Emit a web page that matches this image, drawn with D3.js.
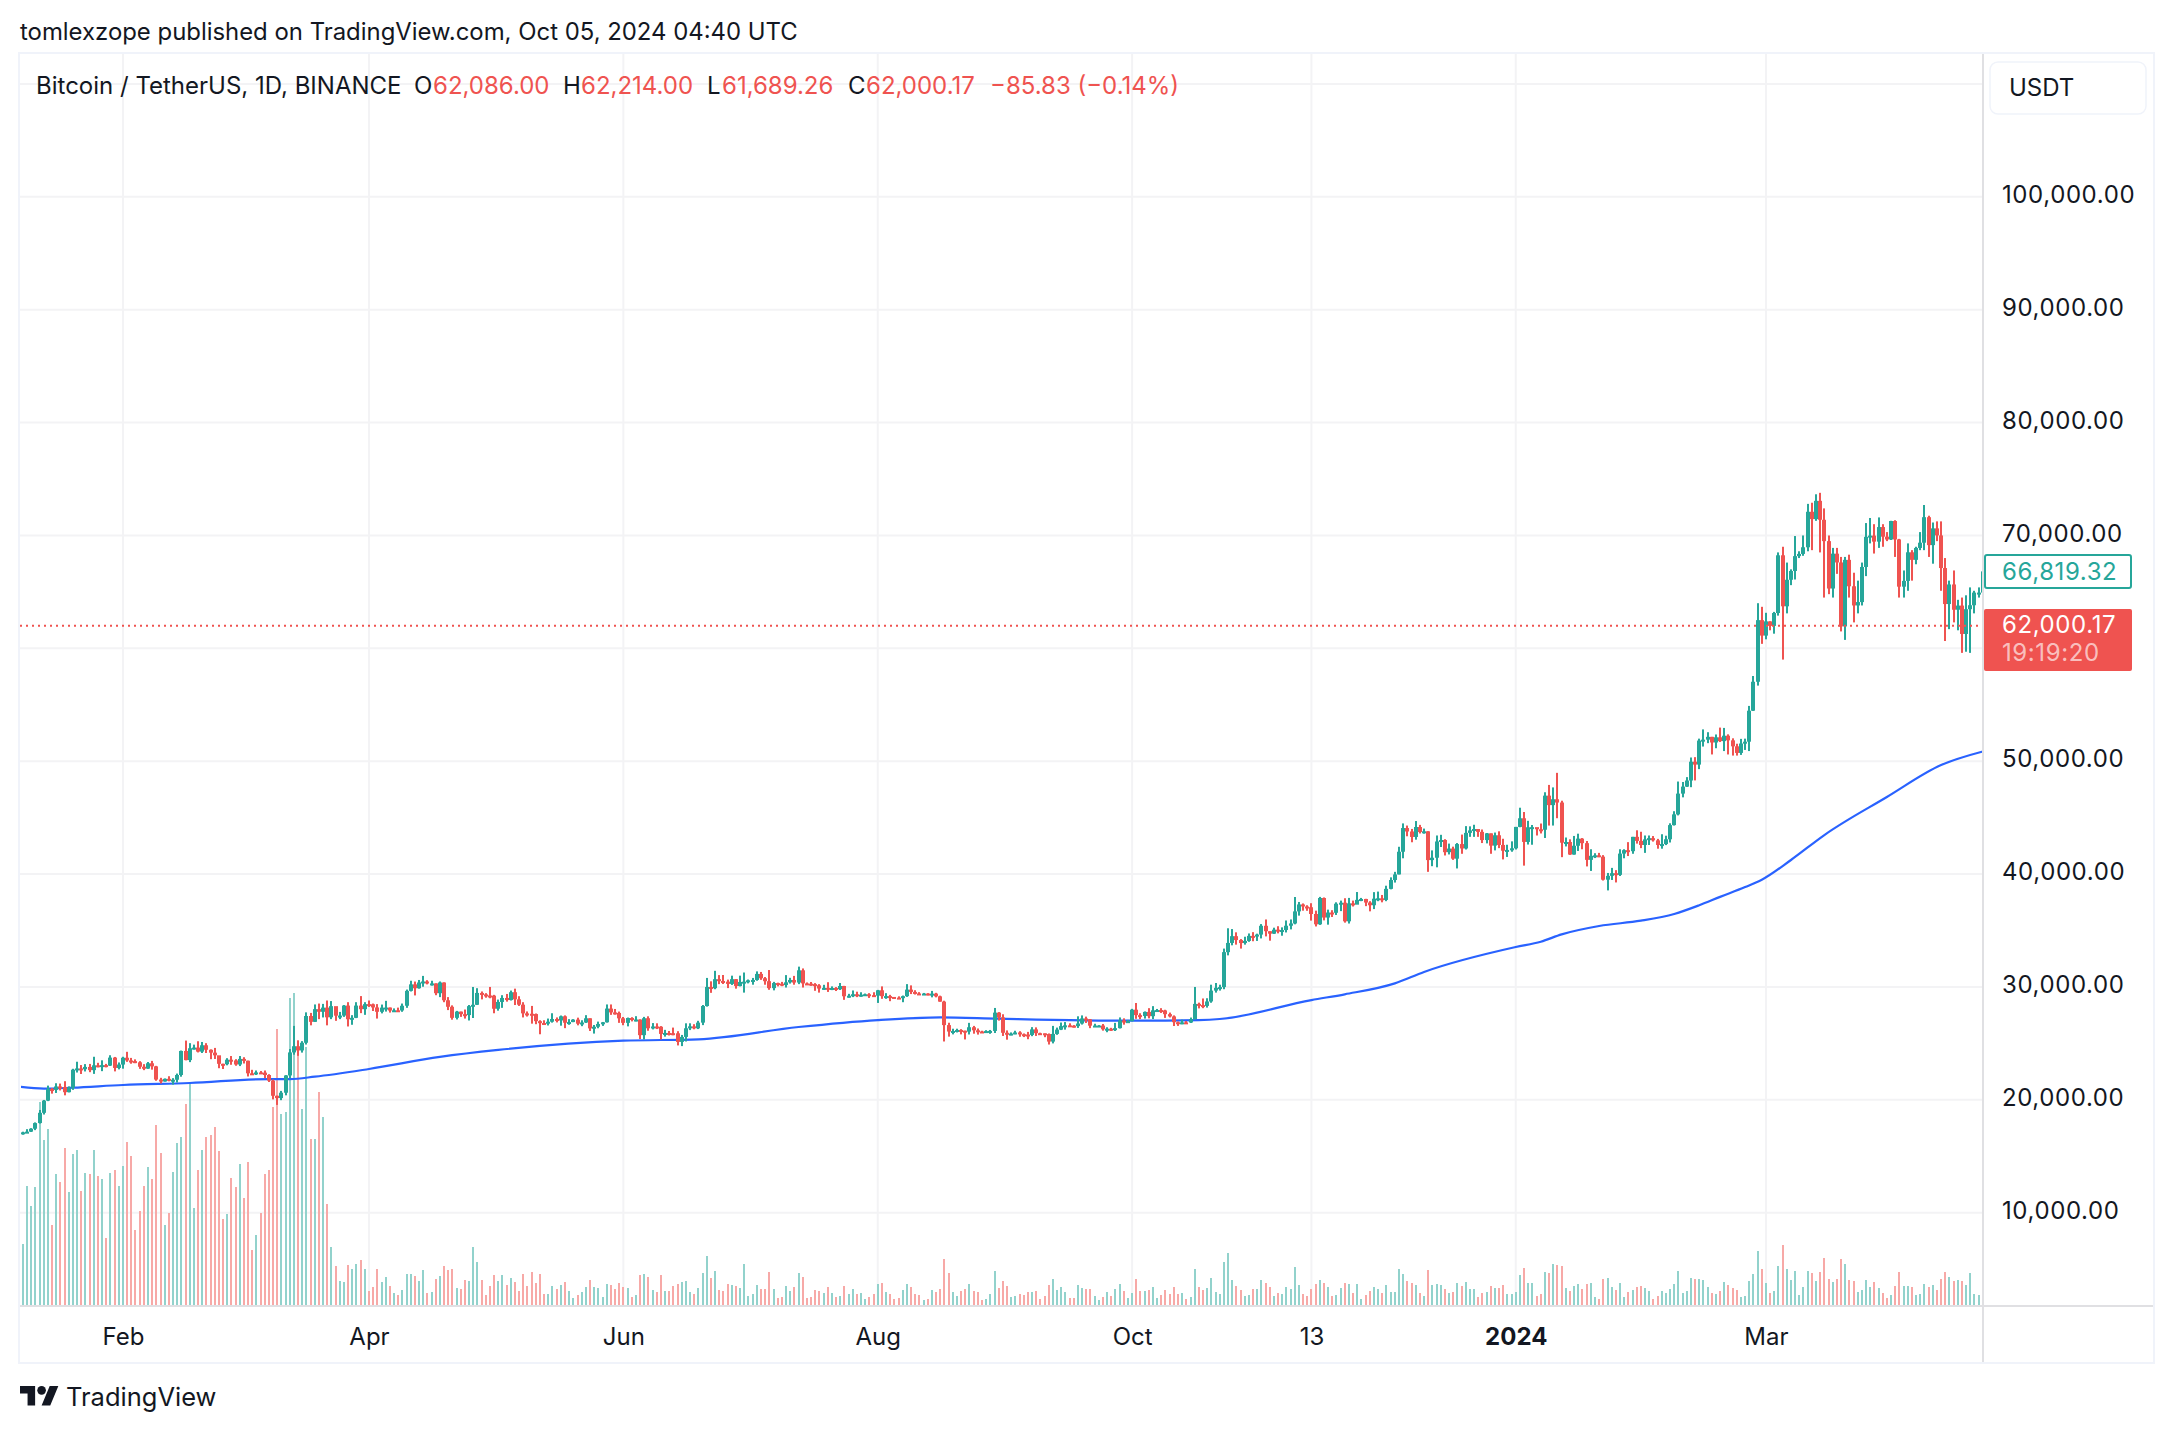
<!DOCTYPE html>
<html>
<head>
<meta charset="utf-8">
<style>
body{margin:0;background:#fff;}
text{font-family:Inter,"Noto Sans",sans-serif;fill:#131722;}
</style>
<script src="https://cdn.jsdelivr.net/npm/d3@7/dist/d3.min.js"></script>
</head>
<body>
<script>
//daily BTC/USDT candles, first bar is 7 Jan 2023, one line per month
var opens=[
16985,16950,17120,17180,17440,17940,18850,19930,20955,20880,21185,21135,20675,21070,22670,22780,22710,22915,22630,23060,23010,23075,23030,23740,22825,
23125,23730,23490,23430,23325,22930,22765,23240,22965,21795,21625,21860,21780,21780,22200,24330,23520,24570,24630,24270,24835,24435,24180,23945,23190,23155,23555,23490,
23130,23625,23465,22350,22345,22430,22410,22200,21705,20360,20155,20630,22160,24200,24750,24375,25055,27425,26910,28035,27800,28170,27310,28300,27455,27465,28350,27140,27265,28350,28030,
28480,28465,28185,27800,28170,28175,27910,27935,27915,28335,29655,30230,29885,30395,30485,30315,30315,29445,30395,28820,28245,27265,27815,27590,27510,28300,28420,29470,29340,29245,
29230,28070,28670,29025,28840,29535,28905,28430,27660,27625,27600,26970,26805,26785,26920,27160,27030,27400,26830,26890,27105,26745,26850,27225,26330,26475,26720,26870,28085,27745,27700,
27220,26820,27250,27070,27115,25730,27230,26340,26500,26475,25840,25925,25905,25895,25130,25575,26340,26510,26335,26840,28310,30000,29890,30690,30530,30470,30270,30690,30080,30445,
30470,30590,30620,31155,30770,30510,29895,30345,30290,30170,30410,30620,30390,31475,30315,30295,30250,30145,29860,29920,29800,29910,29800,30085,29175,29225,29355,29215,29315,29355,29275,
29230,29705,29185,29190,29115,29055,29045,29185,29765,29560,29425,29395,29415,29280,29410,29170,28700,26620,26050,26100,26190,26125,26040,26430,26160,26055,26005,26090,26105,27725,27300,
25940,25805,25870,25970,25815,25785,25750,26240,25905,25895,25830,25160,25840,26220,26530,26600,26570,26530,26760,27210,27130,26570,26580,26580,26250,26300,26215,26350,27025,26910,
26970,27985,27505,27430,27790,27410,27930,27955,27920,27590,27390,26875,26755,26865,26850,27150,28500,28395,28320,28715,29675,29925,29990,33085,33900,34500,34155,33890,34080,34525,34475,
34640,35420,34940,34720,35075,35040,35045,35425,35625,36695,37310,37130,37065,36465,35550,37880,36150,36595,36570,37375,37465,35815,37410,37290,37715,37795,37480,37240,37820,37855,
37710,38690,39475,39970,41980,44080,43775,43290,44170,43725,43790,41240,41450,42890,43020,41940,42260,41365,42660,42270,43650,43870,43995,43740,43015,43610,42520,43440,42580,42070,42140,
42285,44180,44945,42850,44150,44160,43970,43930,46950,46110,46630,46340,42780,42840,41730,42510,43140,42740,41260,41620,41665,41545,39505,39845,40080,39930,41815,42120,42030,43300,42940,
42580,43075,43185,42990,42580,42660,43085,44340,45290,47130,47750,48290,49960,49700,51830,51910,52160,51660,52120,51780,52260,51850,51320,50735,51570,51730,54475,57040,62500,
61130,62390,61990,63130,68245,63725,66075,66855,68170,68365,68955,72100,71450,73070,71390,69500,65300,68390,67610,61940,67840,65500,63800,64100,67210,69880,69990,69455,70745,69895,69645,
71280,69650,65465,65975,68510,67840,68895,69360,71620,69145,70630,70005,67115,63925,65660,63420,63790,61275,63470,63820,64940,64940
];
var closes=[
16950,17120,17180,17440,17940,18850,19930,20955,20880,21185,21135,20675,21070,22670,22780,22710,22915,22630,23060,23010,23075,23030,23740,22825,23125,
23730,23490,23430,23325,22930,22765,23240,22965,21795,21625,21860,21780,21780,22200,24330,23520,24570,24630,24270,24835,24435,24180,23945,23190,23155,23555,23490,23130,
23625,23465,22350,22345,22430,22410,22200,21705,20360,20155,20630,22160,24200,24750,24375,25055,27425,26910,28035,27800,28170,27310,28300,27455,27465,28350,27140,27265,28350,28030,28480,
28465,28185,27800,28170,28175,27910,27935,27915,28335,29655,30230,29885,30395,30485,30315,30315,29445,30395,28820,28245,27265,27815,27590,27510,28300,28420,29470,29340,29245,29230,
28070,28670,29025,28840,29535,28905,28430,27660,27625,27600,26970,26805,26785,26920,27160,27030,27400,26830,26890,27105,26745,26850,27225,26330,26475,26720,26870,28085,27745,27700,27220,
26820,27250,27070,27115,25730,27230,26340,26500,26475,25840,25925,25905,25895,25130,25575,26340,26510,26335,26840,28310,30000,29890,30690,30530,30470,30270,30690,30080,30445,30470,
30590,30620,31155,30770,30510,29895,30345,30290,30170,30410,30620,30390,31475,30315,30295,30250,30145,29860,29920,29800,29910,29800,30085,29175,29225,29355,29215,29315,29355,29275,29230,
29705,29185,29190,29115,29055,29045,29185,29765,29560,29425,29395,29415,29280,29410,29170,28700,26620,26050,26100,26190,26125,26040,26430,26160,26055,26005,26090,26105,27725,27300,25940,
25805,25870,25970,25815,25785,25750,26240,25905,25895,25830,25160,25840,26220,26530,26600,26570,26530,26760,27210,27130,26570,26580,26580,26250,26300,26215,26350,27025,26910,26970,
27985,27505,27430,27790,27410,27930,27955,27920,27590,27390,26875,26755,26865,26850,27150,28500,28395,28320,28715,29675,29925,29990,33085,33900,34500,34155,33890,34080,34525,34475,34640,
35420,34940,34720,35075,35040,35045,35425,35625,36695,37310,37130,37065,36465,35550,37880,36150,36595,36570,37375,37465,35815,37410,37290,37715,37795,37480,37240,37820,37855,37710,
38690,39475,39970,41980,44080,43775,43290,44170,43725,43790,41240,41450,42890,43020,41940,42260,41365,42660,42270,43650,43870,43995,43740,43015,43610,42520,43440,42580,42070,42140,42285,
44180,44945,42850,44150,44160,43970,43930,46950,46110,46630,46340,42780,42840,41730,42510,43140,42740,41260,41620,41665,41545,39505,39845,40080,39930,41815,42120,42030,43300,42940,42580,
43075,43185,42990,42580,42660,43085,44340,45290,47130,47750,48290,49960,49700,51830,51910,52160,51660,52120,51780,52260,51850,51320,50735,51570,51730,54475,57040,62500,61130,
62390,61990,63130,68245,63725,66075,66855,68170,68365,68955,72100,71450,73070,71390,69500,65300,68390,67610,61940,67840,65500,63800,64100,67210,69880,69990,69455,70745,69895,69645,71280,
69650,65465,65975,68510,67840,68895,69360,71620,69145,70630,70005,67115,63925,65660,63420,63790,61275,63470,63820,64940,64940,66819
];
var highs=[
16990,17175,17400,17490,18000,19100,19990,21260,21050,21470,21440,21650,21190,22750,23375,23080,23165,23180,23815,23280,23500,23185,23950,23800,23310,
23815,24255,23715,23585,23425,23160,23350,23450,23010,21950,21895,22090,21920,22325,24365,25250,25020,24890,25190,25125,25020,24470,24600,23880,23205,23690,23880,23600,
23880,23775,23475,22660,22600,22550,22600,22270,21800,20370,20790,22190,24500,26550,25250,25200,27750,27700,28450,28530,28500,28800,28750,28020,27790,28400,28650,27500,28650,29190,28650,
28800,28530,28480,28440,28770,28180,28100,28170,28530,29770,30550,30480,30620,30980,30600,30550,30320,30485,30410,29100,28370,27880,27820,28000,28400,30000,29890,29600,29450,30000,
29300,28880,29270,29380,29680,29850,29180,28650,27830,28320,27650,27050,27050,27200,27670,27300,27470,27480,27150,27150,27280,27050,27500,27220,26630,26930,26900,28450,28450,28050,27820,
27340,27290,27320,27410,27130,27350,27400,26800,26780,26530,26200,26100,26400,26080,25750,26780,26780,26700,27000,28400,30800,30500,31430,31050,31060,30650,31000,30700,31000,31280,
30660,30800,31380,31330,30880,31500,30450,30380,30450,31050,30810,30980,31800,31640,30400,30440,30340,30250,30190,30420,30050,29990,30350,30100,29390,29690,29580,29530,29415,29450,29530,
29740,30050,29450,29300,29110,29170,29240,30250,30140,29710,29540,29470,29450,29650,29480,29230,28780,26830,26300,26300,26260,26130,26820,26550,26320,26120,26170,26190,28140,27770,27580,
26150,25970,26120,26080,25880,26020,26440,26420,25950,25880,25880,26550,26400,26850,26890,26780,26620,27400,27480,27370,27160,26740,26620,26720,26430,26380,26820,27300,27220,27080,
28060,28580,27670,27830,28120,28300,28050,28120,27980,27730,27480,26940,27100,26980,27290,30000,28610,28980,29000,30200,30350,30200,33400,35200,35130,34840,34240,34450,34740,34855,34720,
35570,35980,34930,35250,35380,35280,35890,35980,37970,37530,37400,37240,37420,36760,37980,37930,36850,36800,37500,37650,37860,37890,37650,38410,37890,37810,37600,38400,38450,38150,
38970,39710,40200,42420,44490,44300,44000,44700,44360,44030,43800,42100,43420,43480,43090,42700,42430,42750,43500,44250,44230,44370,43820,43950,43640,43600,43680,43790,43130,42600,42900,
44180,45880,45500,44720,44350,44040,44480,47250,47900,47680,48970,46500,43240,43080,43380,43580,43190,42930,42200,41850,41880,41680,40100,40550,40350,42200,42200,42830,43300,43880,43750,
43420,43420,43370,43120,43530,43400,44500,45570,48200,48160,48590,50330,50360,52000,52820,52570,52160,52370,52980,52950,52380,52030,51550,51980,52000,54900,57550,64000,63680,
63150,62400,63230,68500,69000,67600,67000,69950,68600,70000,72800,72900,73650,73780,72400,70000,68900,68900,68100,68100,68300,66700,66000,67600,71100,71550,71000,71600,71000,70300,71300,
71350,69700,66900,69300,68700,69000,70300,72700,71750,71150,71250,71250,68000,66000,66900,64300,64500,64700,65400,65100,65400,67200
];
var lows=[
16910,16910,17130,17150,17315,17900,18700,19885,20550,20610,20835,20400,20660,20885,22420,22290,22515,22450,22300,22880,22540,22880,23000,22520,22700,
22760,23365,23200,23250,22745,22630,22745,22675,21690,21450,21610,21640,21350,21535,22050,23500,23340,24450,24200,24150,24150,23600,23620,22800,22730,23060,23105,23020,
22990,23220,22070,22200,22200,22330,21920,21580,20040,19550,19970,20400,21900,24000,23900,24185,24900,26600,26900,27150,27300,26600,27150,27000,27150,27350,26500,26650,27240,27680,27530,
28230,27870,27200,27660,27820,27730,27790,27790,27800,28150,29600,29250,29850,30020,30230,30120,29270,29100,28650,27950,27100,27120,27350,27200,27030,27250,28400,28900,29050,29000,
27670,27900,28150,28700,28800,28400,28320,27300,27380,26750,26700,25810,26700,26590,26840,26860,26570,26350,26650,26880,26600,26525,26810,26100,25870,26340,26550,26840,27530,27550,26820,
26610,26510,26950,26950,25390,25350,26120,26240,26270,25350,25600,25700,25720,24820,24760,25170,26180,26250,26270,26620,28260,29480,29800,30250,30260,29900,30180,29850,30050,29500,
30320,30200,30550,30630,30200,29750,29700,30050,30070,29950,30300,30200,30250,29950,30250,30100,29660,29500,29750,29560,29720,29640,29730,28860,29050,29100,29100,29130,29250,29030,29110,
28585,28950,28950,28740,28960,28960,28650,29120,29370,29330,29350,29350,29260,29080,29080,28690,25170,25600,25800,25970,25800,25350,25790,25860,25780,25970,25960,25850,25920,27020,25660,
25330,25720,25810,25590,25560,25370,25640,25660,25800,25550,24900,25000,25760,26180,26220,26480,26400,26370,26670,26810,26350,26510,26520,26130,25990,26100,26100,26320,26660,26880,
26950,27180,27160,27200,27220,27160,27860,27700,27260,27300,26540,26550,26700,26800,26810,27120,28100,28120,28170,28600,29500,29680,29800,32800,33690,33750,33400,33750,34000,34050,34080,
34300,34480,34100,34700,34750,34540,34830,35100,35550,36320,36760,36750,35880,35360,35500,35900,35520,36200,36380,36720,35700,35620,37130,37500,37600,37160,36700,36900,37600,37500,
37600,38650,39250,39970,41400,43350,42820,43050,43600,43580,40200,40700,40600,42400,41650,41740,41260,40500,41800,42180,43300,43300,43300,42750,42720,41800,42100,42300,41300,41520,41980,
42180,44150,40750,42620,42600,43420,43600,43200,44300,44300,44950,41500,42450,41700,41720,42050,42200,40680,40280,41420,41500,39430,38555,39480,39260,39830,41400,41600,41800,42700,42300,
41880,42580,42880,42250,42250,42570,42800,44300,45200,46800,47720,47700,48300,49300,51300,51600,50600,51150,51700,50900,50600,50500,50500,50560,51000,50900,54450,56700,60400,
60800,61600,61300,62900,59005,63100,65600,66100,68000,68200,68600,68700,71300,68500,64500,64800,64500,66600,61500,60750,64500,62300,63100,63800,66400,69300,68400,68900,69000,69500,69600,
68100,64500,64500,65100,66000,67450,68700,68700,68100,67500,69500,65100,60650,61700,62300,61600,59600,59700,59600,63100,64500,64500
];
//volume in thousands, same bars as the candles
var volumes=[
40,
61,119,99,118,203,165,176,80,131,123,157,113,151,155,114,132,131,155,129,126,67,132,135,119,
139,163,149,75,94,119,138,126,180,152,80,92,133,162,168,201,221,97,135,155,168,170,178,154,86,91,127,118,
141,107,143,55,70,92,131,135,198,276,191,193,307,312,265,196,258,166,166,213,188,101,58,39,24,23,40,36,41,45,36,
14,18,36,23,28,19,12,10,15,31,31,29,24,35,12,13,26,29,39,35,36,17,16,25,24,58,43,25,10,19,
30,24,30,20,27,23,14,31,19,33,22,31,11,11,19,16,20,23,14,7,10,13,18,25,18,17,8,21,20,16,22,
18,17,8,10,30,31,28,15,13,30,14,14,19,21,23,24,13,11,17,32,49,27,34,15,14,21,20,19,17,41,
9,11,20,16,16,33,16,7,8,19,14,18,32,28,7,8,15,14,12,18,12,8,9,19,11,16,11,12,6,8,11,
21,22,13,11,6,7,15,21,18,11,10,5,6,15,13,16,46,32,13,9,14,16,21,14,13,5,6,11,34,17,24,
19,8,9,11,10,13,13,14,6,9,20,26,15,18,13,7,7,20,17,16,16,9,5,8,13,9,16,21,14,7,
12,26,14,14,15,18,7,10,15,11,18,11,12,6,8,36,18,15,17,27,13,11,43,52,25,19,15,9,10,16,16,
25,22,18,9,12,11,18,16,38,20,11,9,16,21,25,22,18,9,10,17,22,21,12,21,6,10,14,18,16,12,
20,13,13,36,31,24,22,20,12,9,35,20,21,20,16,12,13,22,19,23,16,16,8,12,13,19,17,17,20,11,11,
13,30,37,22,22,9,11,33,32,41,40,39,17,14,19,21,16,21,22,8,6,26,27,18,15,22,8,13,15,18,19,
17,14,6,9,14,12,16,21,34,12,14,27,26,26,25,18,12,11,14,23,20,17,15,8,9,24,31,54,36,
22,12,14,39,60,36,25,34,10,18,34,32,24,33,47,26,23,26,46,41,25,24,13,15,25,18,23,17,12,7,10,
19,33,19,19,18,10,11,21,18,20,15,26,33,28,24,25,24,20,32,11,10,8
];
//moving average, sampled along the blue line as [bar number, price]
var maBars=[0,6,13,25,41,60,65,71,84,101,115,145,163,187,206,221,235,267,283,288,310,318,330,337,359,365,370,379,389,397,403,408,414,418,425,433,448,461,471];
var maValues=[21164,20990,21080,21315,21490,21840,21840,22050,22730,23800,24420,25240,25360,26450,27070,27310,27190,27010,27070,27160,28840,29350,30320,31330,33540,34010,34660,35400,35870,36470,37240,37980,38850,39500,41250,43460,46830,49660,50860];

var priceTicks=[10000,20000,30000,40000,50000,70000,80000,90000,100000];
var gridPrices=[10000,20000,30000,40000,50000,60000,70000,80000,90000,100000,110000];
var timeTickBars=[25,84,145,206,267,310,359,419];
var timeTickLabels=["Feb","Apr","Jun","Aug","Oct","13","2024","Mar"];

var lastPrice=62000.17, livePrice=66819.32;

var up="#26a69a", down="#ef5350", upVol="#92d2cc", downVol="#f7a9a7";
var w=2174, h=1432;
var paneL=20, paneR=1983, paneT=54, paneB=1306, frameR=2153, frameB=1362;

var svg=d3.select("body").append("svg")
	.attr("width",w)
	.attr("height",h)
	.style("display","block");

var x=d3.scaleLinear().domain([0,471]).range([18.73,1982.8]);
var y=d3.scaleLinear().domain([10000,110000]).range([1212.7,84]);
var yVol=d3.scaleLinear().domain([0,320]).range([1305,985]);

svg.append("clipPath").attr("id","pane").append("rect")
	.attr("x",paneL+1).attr("y",paneT).attr("width",paneR-paneL-1).attr("height",paneB-paneT);

//grid first so everything else sits on it
var grid=svg.append("g").attr("stroke","#f3f3f5").attr("stroke-width",2);
grid.selectAll(".hgrid").data(gridPrices).enter().append("line")
	.attr("class","hgrid")
	.attr("x1",paneL).attr("x2",paneR)
	.attr("y1",function(d){return y(d);})
	.attr("y2",function(d){return y(d);});
grid.selectAll(".vgrid").data(timeTickBars).enter().append("line")
	.attr("class","vgrid")
	.attr("y1",paneT).attr("y2",paneB)
	.attr("x1",function(d){return x(d);})
	.attr("x2",function(d){return x(d);});

var pane=svg.append("g").attr("clip-path","url(#pane)");

pane.selectAll(".vol").data(volumes).enter().append("rect")
	.attr("class","vol")
	.attr("x",function(d,i){return Math.round(x(i))-1;})
	.attr("width",2)
	.attr("y",function(d){return yVol(d);})
	.attr("height",function(d){return yVol(0)-yVol(d);})
	.attr("fill",function(d,i){return closes[i]>=opens[i]?upVol:downVol;});

var maLine=d3.line()
	.x(function(d){return x(d);})
	.y(function(d,i){return y(maValues[i]);})
	.curve(d3.curveMonotoneX);
pane.append("path").datum(maBars)
	.attr("d",maLine)
	.attr("fill","none")
	.attr("stroke","#2962ff")
	.attr("stroke-width",2.2);

//candles snap to whole pixels like the real chart does
pane.selectAll(".wick").data(closes).enter().append("rect")
	.attr("class","wick")
	.attr("x",function(d,i){return Math.round(x(i))-1;})
	.attr("width",2)
	.attr("y",function(d,i){return y(highs[i]);})
	.attr("height",function(d,i){return y(lows[i])-y(highs[i]);})
	.attr("fill",function(d,i){return d>=opens[i]?up:down;});

pane.selectAll(".body").data(closes).enter().append("rect")
	.attr("class","body")
	.attr("x",function(d,i){return Math.round(x(i))-2;})
	.attr("width",4)
	.attr("y",function(d,i){return y(Math.max(d,opens[i]));})
	.attr("height",function(d,i){return Math.max(2,Math.abs(y(d)-y(opens[i])));})
	.attr("fill",function(d,i){return d>=opens[i]?up:down;});

//last price dotted line
svg.append("line")
	.attr("x1",paneL).attr("x2",paneR)
	.attr("y1",y(lastPrice)).attr("y2",y(lastPrice))
	.attr("stroke",down)
	.attr("stroke-width",2)
	.attr("stroke-dasharray","2 4");

//chart frame
svg.append("rect")
	.attr("x",paneL-1).attr("y",paneT-1)
	.attr("width",frameR-paneL+2).attr("height",frameB-paneT+2)
	.attr("fill","none").attr("stroke","#f0f3fa").attr("stroke-width",2);
svg.append("line").attr("x1",paneL).attr("x2",frameR).attr("y1",paneB).attr("y2",paneB)
	.attr("stroke","#e0e0e3").attr("stroke-width",2);
svg.append("line").attr("x1",paneR).attr("x2",paneR).attr("y1",paneT).attr("y2",frameB)
	.attr("stroke","#e0e0e3").attr("stroke-width",2);

//axes
var yAxis=d3.axisRight(y).tickValues(priceTicks).tickFormat(d3.format(",.2f")).tickSize(0).tickPadding(0);
var yG=svg.append("g").attr("transform","translate(2002,-2)").call(yAxis);
yG.select(".domain").remove();
yG.selectAll("text").style("font-family","Inter").style("font-size","24px").style("letter-spacing","0.6px").attr("fill","#131722");

var xAxis=d3.axisBottom(x).tickValues(timeTickBars)
	.tickFormat(function(d,i){return timeTickLabels[i];}).tickSize(0).tickPadding(0);
var xG=svg.append("g").attr("transform","translate(0,1328)").call(xAxis);
xG.select(".domain").remove();
xG.selectAll("text").style("font-family","Inter").style("font-size","24px").attr("fill","#131722")
	.style("font-weight",function(d,i){return timeTickLabels[i]=="2024"?"700":"400";});

//price tags
var format=d3.format(",.2f");
svg.append("rect").attr("x",1985).attr("y",y(livePrice)-16.5).attr("width",146).attr("height",33).attr("rx",2)
	.attr("fill","#fff").attr("stroke",up).attr("stroke-width",2);
svg.append("text").attr("x",2002).attr("y",y(livePrice)+8.5).text(format(livePrice))
	.style("fill",up).style("font-size","24px").style("letter-spacing","0.6px");
svg.append("rect").attr("x",1984).attr("y",609).attr("width",148).attr("height",62).attr("rx",2).attr("fill",down);
svg.append("text").attr("x",2002).attr("y",633).text(format(lastPrice))
	.style("fill","#fff").style("font-size","24px").style("letter-spacing","0.6px");
svg.append("text").attr("x",2002).attr("y",661).text("19:19:20")
	.style("fill","#fff").style("fill-opacity",0.65).style("font-size","24px").style("letter-spacing","0.6px");

//currency button
svg.append("rect").attr("x",1990).attr("y",62).attr("width",156).attr("height",52).attr("rx",8)
	.attr("fill","#fff").attr("stroke","#f0f3fa").attr("stroke-width",1.5);
svg.append("text").attr("x",2009).attr("y",96).text("USDT").style("font-size","24px");

//titles
svg.append("text").attr("x",20).attr("y",40).text("tomlexzope published on TradingView.com, Oct 05, 2024 04:40 UTC")
	.style("font-size","23.9px");

var legendDark=[["Bitcoin / TetherUS, 1D, BINANCE",36],["O",414],["H",563],["L",707],["C",848]];
var legendRed=[["62,086.00",433],["62,214.00",581],["61,689.26",722],["62,000.17",866],["\u221285.83 (\u22120.14%)",990]];
svg.selectAll(".legendDark").data(legendDark).enter().append("text")
	.attr("class","legendDark")
	.attr("x",function(d){return d[1];}).attr("y",94)
	.text(function(d){return d[0];})
	.style("font-size","24px");
svg.selectAll(".legendRed").data(legendRed).enter().append("text")
	.attr("class","legendRed")
	.attr("x",function(d){return d[1];}).attr("y",94)
	.text(function(d){return d[0];})
	.style("font-size","24px").style("fill",down);

//logo and name at the bottom
var logo=svg.append("g").attr("transform","translate(20,1381.7) scale(1.08)").attr("fill","#131722");
logo.append("path").attr("d","M14 22H7V11H0V4h14v18zM28 22h-8l7.5-18h8L28 22z");
logo.append("circle").attr("cx",20).attr("cy",8).attr("r",4);
svg.append("text").attr("x",66).attr("y",1406).text("TradingView").style("font-size","25.5px");
</script>
</body>
</html>
